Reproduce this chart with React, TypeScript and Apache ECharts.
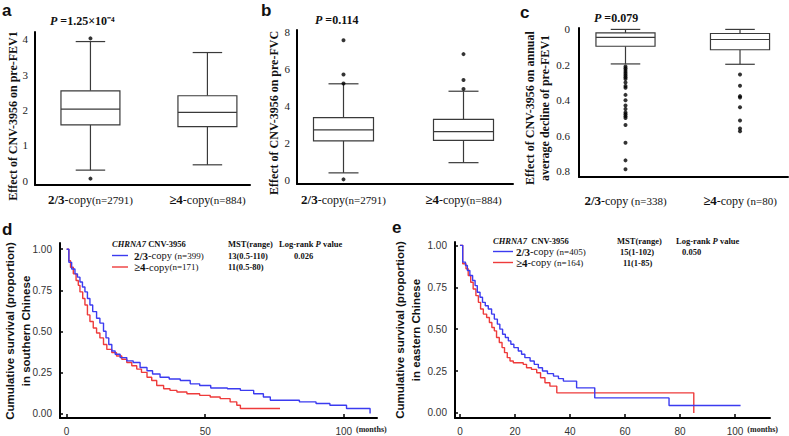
import React, { useEffect, useRef } from 'react';
import * as echarts from 'echarts';

// ---------- Box plot data: [x, lowerWhisker, Q1, median, Q3, upperWhisker] ----------
const boxGroups = ['2/3', '≥4'];
const nLabelsA = ['(n=2791)', '(n=884)'];
const nLabelsB = ['(n=2791)', '(n=884)'];
const nLabelsC = [' (n=338)', ' (n=80)'];

const statsA = [
  [1, 0.3, 1.58, 2.02, 2.54, 3.93],
  [2, 0.45, 1.53, 1.93, 2.4, 3.62],
];
const outliersA = [[1, 4.02], [1, 0.06]];

const statsB = [
  [1, 0.4, 2.12, 2.72, 3.38, 5.2],
  [2, 0.95, 2.15, 2.62, 3.28, 4.8],
];
const outliersB = [[1, 7.55], [1, 5.7], [1, 5.22], [1, 0.05], [2, 6.8], [2, 5.4], [2, 4.92]];

const statsC = [
  [1, 0.0, 0.02, 0.045, 0.095, 0.195],
  [2, 0.0, 0.023, 0.057, 0.115, 0.197],
];
const outliersC1 = [0.21, 0.22, 0.23, 0.24, 0.25, 0.26, 0.27, 0.28, 0.3, 0.32, 0.33, 0.37, 0.4, 0.43, 0.45, 0.47, 0.48, 0.49, 0.5, 0.54, 0.64, 0.74, 0.79];
const outliersC2 = [0.255, 0.318, 0.377, 0.385, 0.44, 0.515, 0.56, 0.575];

const ticksA = [0, 1, 2, 3, 4];
const ticksB = [0, 2, 4, 6, 8];
const ticksC = [0, 0.2, 0.4, 0.6, 0.8];

// ---------- Kaplan-Meier data: [months, survival] ----------
const survDBlue = [[0, 1], [0.8, 0.92], [1.8, 0.88], [3, 0.85], [3.9, 0.83], [4.8, 0.8], [5.7, 0.77], [6.6, 0.74], [7.5, 0.7], [8.4, 0.66], [9.4, 0.62], [10.8, 0.58], [12, 0.55], [13.3, 0.5], [14.2, 0.46], [15.2, 0.42], [16.3, 0.38], [17.5, 0.36], [19.3, 0.34], [21.7, 0.32], [24, 0.31], [26.5, 0.28], [29, 0.26], [31, 0.24], [33.7, 0.22], [37, 0.21], [41, 0.2], [44.6, 0.18], [48, 0.17], [52, 0.155], [58, 0.15], [62.7, 0.14], [67.5, 0.12], [71, 0.1], [73.5, 0.08], [84, 0.07], [90, 0.06], [95, 0.05], [101, 0.03], [109.5, 0.0]];
const survDRed = [[0, 1], [0.8, 0.93], [1.4, 0.89], [2.4, 0.85], [3.4, 0.81], [4.2, 0.78], [4.8, 0.74], [5.8, 0.7], [6.6, 0.66], [7.5, 0.6], [8.4, 0.56], [9.6, 0.52], [10.8, 0.49], [12, 0.46], [13.3, 0.42], [14.5, 0.39], [16.3, 0.37], [18, 0.35], [19.9, 0.33], [21.7, 0.31], [23.5, 0.29], [25.3, 0.27], [27, 0.25], [29, 0.22], [30.7, 0.2], [32.5, 0.17], [35, 0.15], [37.3, 0.14], [39.8, 0.13], [43.4, 0.12], [48, 0.11], [51.8, 0.1], [55.4, 0.09], [59, 0.07], [61.4, 0.05], [62.7, 0.03], [77, 0.03]];
const survEBlue = [[0, 1], [1, 0.9], [2, 0.88], [2.7, 0.85], [3.6, 0.82], [4.6, 0.79], [5.5, 0.76], [6.3, 0.72], [7.3, 0.69], [8.2, 0.66], [9.2, 0.64], [10.3, 0.62], [11.5, 0.59], [12.5, 0.56], [13.6, 0.53], [14.5, 0.5], [15.5, 0.47], [16.5, 0.45], [17.6, 0.43], [18.5, 0.41], [19.6, 0.39], [21.2, 0.37], [22.4, 0.35], [23.6, 0.33], [25.5, 0.31], [27, 0.29], [28.5, 0.27], [30, 0.25], [31.8, 0.235], [34, 0.22], [35.8, 0.205], [37.6, 0.19], [42.4, 0.15], [49, 0.09], [76, 0.045], [102, 0.045]];
const survERed = [[0, 1], [1, 0.89], [2.2, 0.86], [3, 0.82], [3.9, 0.78], [4.8, 0.74], [5.8, 0.7], [6.7, 0.66], [7.5, 0.62], [8.5, 0.59], [9.7, 0.57], [10.7, 0.54], [11.6, 0.51], [12.5, 0.49], [13.3, 0.45], [14.3, 0.42], [15.3, 0.39], [16.2, 0.36], [17.2, 0.33], [18.2, 0.31], [19.4, 0.3], [23, 0.29], [24.2, 0.27], [26, 0.26], [27.9, 0.24], [29.3, 0.21], [30.9, 0.18], [32.7, 0.16], [35.2, 0.12], [85, 0]];

const survTicksY = [0, 0.25, 0.5, 0.75, 1];
const survTicksXD = [0, 50, 100];
const survTicksXE = [0, 20, 40, 60, 80, 100];

const BLUE = '#3b3bf0';
const RED = '#ee3b3b';
const SERIF = '"Liberation Serif", "Times New Roman", serif';
const SANS = '"Liberation Sans", Arial, sans-serif';

function boxRenderer(hw: number) {
  return (params: any, api: any) => {
    const x = api.value(0);
    const lo = api.value(1), q1 = api.value(2), med = api.value(3), q3 = api.value(4), hi = api.value(5);
    const a = api.coord([x - hw, q3]);
    const b = api.coord([x + hw, q1]);
    const mL = api.coord([x - hw, med]);
    const mR = api.coord([x + hw, med]);
    const cHiL = api.coord([x - hw / 2, hi]);
    const cHiR = api.coord([x + hw / 2, hi]);
    const cLoL = api.coord([x - hw / 2, lo]);
    const cLoR = api.coord([x + hw / 2, lo]);
    const cx = api.coord([x, q3])[0];
    const yHi = cHiL[1], yLo = cLoL[1], yQ3 = a[1], yQ1 = b[1];
    const st = { stroke: '#3a3a3a', lineWidth: 1.2, fill: 'none' };
    return {
      type: 'group',
      children: [
        { type: 'line', shape: { x1: cx, y1: yHi, x2: cx, y2: yQ3 }, style: st },
        { type: 'line', shape: { x1: cx, y1: yQ1, x2: cx, y2: yLo }, style: st },
        { type: 'line', shape: { x1: cHiL[0], y1: yHi, x2: cHiR[0], y2: yHi }, style: st },
        { type: 'line', shape: { x1: cLoL[0], y1: yLo, x2: cLoR[0], y2: yLo }, style: st },
        {
          type: 'rect',
          shape: { x: a[0], y: Math.min(yQ3, yQ1), width: b[0] - a[0], height: Math.abs(yQ1 - yQ3) },
          style: { stroke: '#3a3a3a', lineWidth: 1.2, fill: '#fff' },
        },
        { type: 'line', shape: { x1: mL[0], y1: mL[1], x2: mR[0], y2: mR[1] }, style: st },
      ],
    };
  };
}

const catRich = {
  b: { fontFamily: SERIF, fontWeight: 'bold', fontSize: 13, color: '#111' },
  r: { fontFamily: SERIF, fontSize: 12, color: '#111' },
  s: { fontFamily: SERIF, fontSize: 11, color: '#111' },
};

function boxX(idx: number, min: number, max: number, nLabels: string[], margin: number) {
  return {
    type: 'value', gridIndex: idx, min, max,
    axisLine: { show: true, onZero: false, lineStyle: { color: '#000', width: 2 } },
    axisTick: { show: false }, splitLine: { show: false },
    axisLabel: {
      customValues: [1, 2], margin,
      formatter: (v: number) => `{b|${boxGroups[v - 1]}}{r|-copy}{s|${nLabels[v - 1]}}`,
      rich: catRich,
    },
  };
}
function boxY(idx: number, min: number, max: number, ticks: number[], inverse = false, margin = 7) {
  return {
    type: 'value', gridIndex: idx, min, max, inverse,
    axisLine: { show: true, onZero: false, lineStyle: { color: '#000', width: 2 } },
    axisTick: { show: false }, splitLine: { show: false },
    axisLabel: { customValues: ticks, margin, fontFamily: SERIF, fontSize: 11, color: '#222', formatter: (v: number) => String(v) },
  };
}
function survX(idx: number, min: number, max: number, ticks: number[]) {
  return {
    type: 'value', gridIndex: idx, min, max,
    axisLine: { show: true, onZero: false, lineStyle: { color: '#000', width: 2 } },
    axisTick: { show: true, inside: true, length: 4, customValues: ticks, lineStyle: { color: '#000', width: 1.5 } },
    splitLine: { show: false },
    axisLabel: { customValues: ticks, margin: 8, fontFamily: SANS, fontSize: 10, color: '#333', formatter: (v: number) => String(v) },
    name: '(months)', nameLocation: 'end', nameGap: 0,
    nameTextStyle: { align: 'right', verticalAlign: 'top', padding: [7, 0, 0, 0], fontFamily: SERIF, fontWeight: 'bold', fontSize: 8, color: '#222' },
  };
}
function survY(idx: number, min: number, max: number) {
  return {
    type: 'value', gridIndex: idx, min, max,
    axisLine: { show: true, onZero: false, lineStyle: { color: '#000', width: 2 } },
    axisTick: { show: true, inside: true, length: 3, customValues: survTicksY, lineStyle: { color: '#000', width: 1.5 } },
    splitLine: { show: false },
    axisLabel: { customValues: survTicksY, margin: 8, fontFamily: SANS, fontSize: 10, color: '#333', formatter: (v: number) => v.toFixed(2) },
  };
}

function txt(x: number, y: number, text: string, font: string, opts: any = {}) {
  return {
    type: 'text', x, y, rotation: opts.rotation || 0,
    style: { text, font, fill: opts.fill || '#111', align: opts.align || 'left', verticalAlign: 'middle', lineHeight: opts.lineHeight, rich: opts.rich },
  };
}

const legRich = {
  b: { fontFamily: SERIF, fontWeight: 'bold', fontSize: 11, color: '#111', lineHeight: 9 },
  r: { fontFamily: SERIF, fontSize: 10.5, color: '#111', lineHeight: 9 },
  s: { fontFamily: SERIF, fontSize: 9, color: '#222', lineHeight: 9 },
};
const headRich = {
  i: { fontFamily: SERIF, fontWeight: 'bold', fontStyle: 'italic', fontSize: 8.5, color: '#111', lineHeight: 8 },
  n: { fontFamily: SERIF, fontWeight: 'bold', fontSize: 8.5, color: '#111', lineHeight: 8 },
};
const pRich = {
  i: { fontFamily: SERIF, fontWeight: 'bold', fontStyle: 'italic', fontSize: 12, color: '#111' },
  n: { fontFamily: SERIF, fontWeight: 'bold', fontSize: 12, color: '#111' },
};

export default function App() {
  const ref = useRef<HTMLDivElement>(null);
  useEffect(() => {
    const chart = echarts.init(ref.current!, undefined, { renderer: 'svg' });
    const option: any = {
      animation: false,
      backgroundColor: '#fff',
      grid: [
        { left: 35, top: 32, width: 215, height: 153 },
        { left: 297, top: 30, width: 216, height: 154 },
        { left: 579, top: 28, width: 209, height: 149 },
        { left: 60, top: 243, width: 317, height: 176 },
        { left: 455, top: 242, width: 315, height: 176 },
      ],
      xAxis: [
        boxX(0, 0.526, 2.364, nLabelsA, 8),
        boxX(1, 0.6125, 2.4125, nLabelsB, 9),
        boxX(2, 0.594, 2.419, nLabelsC, 17),
        survX(3, -2.4, 112, survTicksXD),
        survX(4, -1.8, 112.7, survTicksXE),
      ],
      yAxis: [
        boxY(0, -0.12, 4.2, ticksA),
        boxY(1, -0.2, 8.1, ticksB),
        boxY(2, -0.008, 0.834, ticksC, true, 9),
        survY(3, -0.028, 1.038),
        survY(4, -0.03, 1.02),
      ],
      series: [
        { type: 'custom', xAxisIndex: 0, yAxisIndex: 0, renderItem: boxRenderer(0.252), data: statsA, encode: { x: 0, y: [1, 2, 3, 4, 5] } },
        { type: 'scatter', xAxisIndex: 0, yAxisIndex: 0, data: outliersA, symbolSize: 4, itemStyle: { color: '#000' }, z: 5 },
        { type: 'custom', xAxisIndex: 1, yAxisIndex: 1, renderItem: boxRenderer(0.25), data: statsB, encode: { x: 0, y: [1, 2, 3, 4, 5] } },
        { type: 'scatter', xAxisIndex: 1, yAxisIndex: 1, data: outliersB, symbolSize: 4, itemStyle: { color: '#000' }, z: 5 },
        { type: 'custom', xAxisIndex: 2, yAxisIndex: 2, renderItem: boxRenderer(0.258), data: statsC, encode: { x: 0, y: [1, 2, 3, 4, 5] } },
        {
          type: 'scatter', xAxisIndex: 2, yAxisIndex: 2, symbolSize: 4, itemStyle: { color: '#000' }, z: 5,
          data: [...outliersC1.map((v) => [1, v]), ...outliersC2.map((v) => [2, v])],
        },
        { type: 'line', xAxisIndex: 3, yAxisIndex: 3, data: survDBlue, step: 'end', showSymbol: false, lineStyle: { color: BLUE, width: 1.4 }, z: 3 },
        { type: 'line', xAxisIndex: 3, yAxisIndex: 3, data: survDRed, step: 'end', showSymbol: false, lineStyle: { color: RED, width: 1.4 }, z: 2 },
        { type: 'line', xAxisIndex: 4, yAxisIndex: 4, data: survEBlue, step: 'end', showSymbol: false, lineStyle: { color: BLUE, width: 1.4 }, z: 3 },
        { type: 'line', xAxisIndex: 4, yAxisIndex: 4, data: survERed, step: 'end', showSymbol: false, lineStyle: { color: RED, width: 1.4 }, z: 2 },
      ],
      graphic: [
        // panel letters
        txt(2, 10, 'a', `bold 17px ${SANS}`),
        txt(261, 10, 'b', `bold 17px ${SANS}`),
        txt(520, 12, 'c', `bold 17px ${SANS}`),
        txt(2, 229, 'd', `bold 17px ${SANS}`),
        txt(392, 227, 'e', `bold 17px ${SANS}`),
        // P values
        txt(50, 21, '{i|P} {n|=1.25×10⁻⁴}', `bold 12px ${SERIF}`, { rich: pRich }),
        txt(315, 20, '{i|P} {n|=0.114}', `bold 12px ${SERIF}`, { rich: pRich }),
        txt(594, 18, '{i|P} {n|=0.079}', `bold 12px ${SERIF}`, { rich: pRich }),
        // y titles
        txt(13, 116, 'Effect of CNV-3956 on pre-FEV1', `bold 12px ${SERIF}`, { rotation: Math.PI / 2, align: 'center' }),
        txt(274, 113, 'Effect of CNV-3956 on pre-FVC', `bold 12px ${SERIF}`, { rotation: Math.PI / 2, align: 'center' }),
        txt(537, 108, 'Effect of CNV-3956 on annual\naverage decline of pre-FEV1', `bold 12px ${SERIF}`, { rotation: Math.PI / 2, align: 'center', lineHeight: 15 }),
        txt(18, 331, 'Cumulative survival (proportion)\nin southern Chinese', `bold 11.5px ${SANS}`, { rotation: Math.PI / 2, align: 'center', lineHeight: 16 }),
        txt(408, 330, 'Cumulative survival (proportion)\nin eastern Chinese', `bold 11.5px ${SANS}`, { rotation: Math.PI / 2, align: 'center', lineHeight: 16 }),
        // legend d
        txt(112, 244, '{i|CHRNA7} {n|CNV-3956}', `bold 8.5px ${SERIF}`, { rich: headRich }),
        { type: 'line', shape: { x1: 112, y1: 255.5, x2: 128, y2: 255.5 }, style: { stroke: BLUE, lineWidth: 1.4 } },
        { type: 'line', shape: { x1: 112, y1: 267, x2: 128, y2: 267 }, style: { stroke: RED, lineWidth: 1.4 } },
        txt(134, 255.5, '{b|2/3}{r|-copy} {s|(n=399)}', `10.5px ${SERIF}`, { rich: legRich }),
        txt(134, 267, '{b|≥4}{r|-copy}{s|(n=171)}', `10.5px ${SERIF}`, { rich: legRich }),
        txt(228, 244, 'MST(range)', `bold 8.5px ${SERIF}`),
        txt(228, 255.5, '13(0.5-110)', `bold 8.5px ${SERIF}`),
        txt(228, 267, '11(0.5-80)', `bold 8.5px ${SERIF}`),
        txt(279, 244, '{n|Log-rank} {i|P} {n|value}', `bold 8.5px ${SERIF}`, { rich: headRich }),
        txt(294, 255.5, '0.026', `bold 8.5px ${SERIF}`),
        // legend e
        txt(493, 241, '{i|CHRNA7}  {n|CNV-3956}', `bold 8.5px ${SERIF}`, { rich: headRich }),
        { type: 'line', shape: { x1: 493, y1: 251.5, x2: 513, y2: 251.5 }, style: { stroke: BLUE, lineWidth: 1.4 } },
        { type: 'line', shape: { x1: 493, y1: 262.5, x2: 513, y2: 262.5 }, style: { stroke: RED, lineWidth: 1.4 } },
        txt(516, 251.5, '{b|2/3}{r|-copy} {s|(n=405)}', `10.5px ${SERIF}`, { rich: legRich }),
        txt(516, 262.5, '{b|≥4}{r|-copy} {s|(n=164)}', `10.5px ${SERIF}`, { rich: legRich }),
        txt(617, 241, 'MST(range)', `bold 8.5px ${SERIF}`),
        txt(620, 251.5, '15(1-102)', `bold 8.5px ${SERIF}`),
        txt(623, 262.5, '11(1-85)', `bold 8.5px ${SERIF}`),
        txt(676, 241, '{n|Log-rank} {i|P} {n|value}', `bold 8.5px ${SERIF}`, { rich: headRich }),
        txt(682, 251.5, '0.050', `bold 8.5px ${SERIF}`),
      ],
    };
    chart.setOption(option);
    return () => chart.dispose();
  }, []);
  return <div ref={ref} style={{ position: 'absolute', left: 0, top: 0, width: 789, height: 436 }} />;
}
